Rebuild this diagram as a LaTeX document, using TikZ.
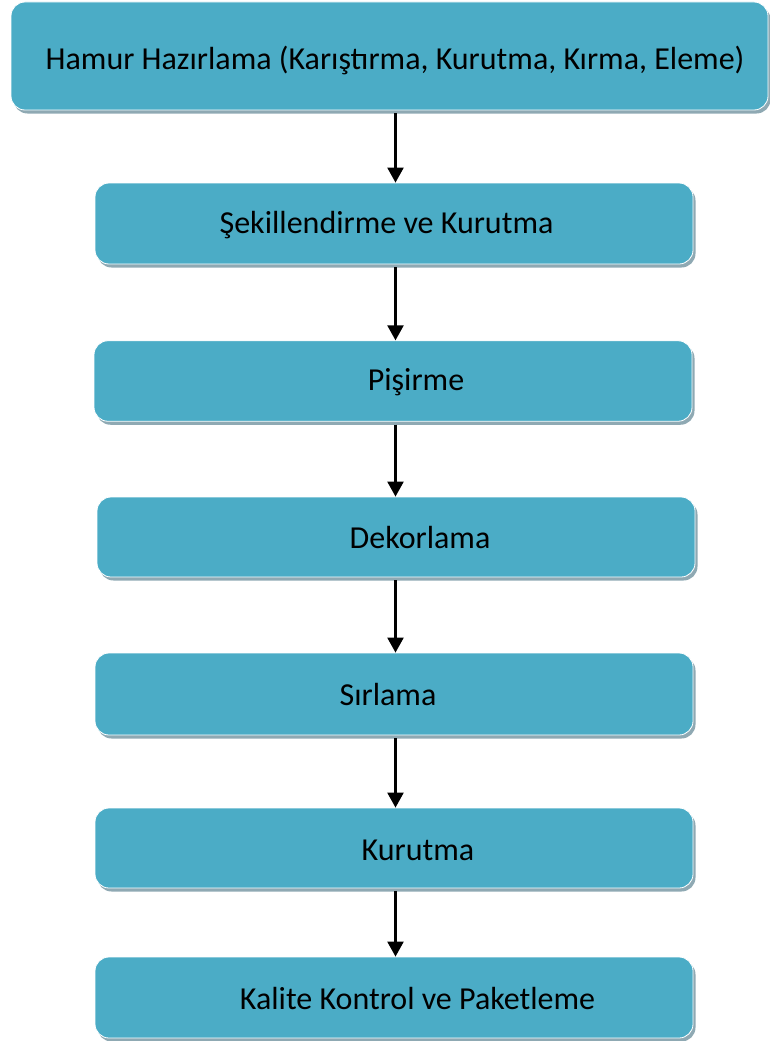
\documentclass[tikz,border=0pt]{standalone}
\usepackage{fontspec}
\setmainfont{Carlito}
\usetikzlibrary{arrows.meta,shadows}
\definecolor{boxfill}{HTML}{4BACC6}
\definecolor{shadowc}{HTML}{8FA9B3}
\tikzset{
  stepbox/.style={rectangle, rounded corners=14pt, fill=boxfill, draw=white, line width=0.8pt,
    inner sep=0pt,
    general shadow={fill=shadowc, shadow xshift=2.5pt, shadow yshift=-3.5pt}},
  steptext/.style={font=\fontsize{32}{36}\selectfont, text=black, inner sep=0pt, anchor=center},
  flow/.style={line width=2.3pt, -{Triangle[width=16pt,length=15pt]}}
}
\begin{document}
\begin{tikzpicture}[x=1pt,y=-1pt]
\useasboundingbox (0,0) rectangle (770,1041);
\node[stepbox, minimum width=757pt, minimum height=108pt] (b1) at (389.5,56) {};
\node[stepbox, minimum width=598pt, minimum height=81pt] (b2) at (394,223.5) {};
\node[stepbox, minimum width=598pt, minimum height=80.5pt] (b3) at (393,381) {};
\node[stepbox, minimum width=598pt, minimum height=80pt] (b4) at (396,537) {};
\node[stepbox, minimum width=598pt, minimum height=82pt] (b5) at (394,694) {};
\node[stepbox, minimum width=598pt, minimum height=80pt] (b6) at (394,848) {};
\node[stepbox, minimum width=598pt, minimum height=81pt] (b7) at (394,997.5) {};

\node[steptext] (t1) at (395,60) {Hamur Hazırlama (Karıştırma, Kurutma, Kırma, Eleme)};
\node[steptext] (t2) at (386.5,225) {Şekillendirme ve Kurutma};
\node[steptext] (t3) at (416,382) {Pişirme};
\node[steptext] (t4) at (420,538) {Dekorlama};
\node[steptext] (t5) at (388,694) {Sırlama};
\node[steptext] (t6) at (418,850) {Kurutma};
\node[steptext] (t7) at (417.5,998.5) {Kalite Kontrol ve Paketleme};

\draw[flow] (b1.south -| 395.5,0) ++(0,3) -- (b2.north -| 395.5,0);
\draw[flow] (b2.south -| 395.5,0) ++(0,3) -- (b3.north -| 395.5,0);
\draw[flow] (b3.south -| 395.5,0) ++(0,3) -- (b4.north -| 395.5,0);
\draw[flow] (b4.south -| 395.5,0) ++(0,3) -- (b5.north -| 395.5,0);
\draw[flow] (b5.south -| 395.5,0) ++(0,3) -- (b6.north -| 395.5,0);
\draw[flow] (b6.south -| 395.5,0) ++(0,3) -- (b7.north -| 395.5,0);
\end{tikzpicture}
\end{document}
